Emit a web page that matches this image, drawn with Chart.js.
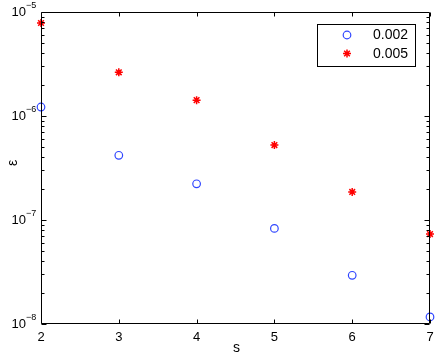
<!DOCTYPE html>
<html>
<head>
<meta charset="utf-8">
<script src="https://cdn.jsdelivr.net/npm/chart.js@4/dist/chart.umd.min.js"></script>
<style>
html,body{margin:0;padding:0;background:#fff;}
canvas{display:block;}
</style>
</head>
<body>
<canvas id="c" width="436" height="354"></canvas>
<script>
const xValues = [2, 3, 4, 5, 6, 7];
const eps002 = [1.22e-6, 4.19e-7, 2.23e-7, 8.3e-8, 2.94e-8, 1.17e-8];
const eps005 = [7.84e-6, 2.63e-6, 1.42e-6, 5.26e-7, 1.86e-7, 7.33e-8];
const seriesLabels = ['0.002', '0.005'];
const xTickValues = [2, 3, 4, 5, 6, 7];
const yTickExponents = [-5, -6, -7, -8];
const xAxisTitle = 's';
const yAxisTitle = 'ε';

const FONT = '"Liberation Sans", Arial, Helvetica, sans-serif';

function pts(ys) { return xValues.map((x, i) => ({ x: x, y: ys[i] })); }

const decor = {
  id: 'matlabDecor',
  afterDraw(chart) {
    const ctx = chart.ctx;
    const a = chart.chartArea;
    const xs = chart.scales.x, ys = chart.scales.y;
    ctx.save();
    // axes box
    ctx.strokeStyle = '#000';
    ctx.lineWidth = 1;
    const L = Math.round(a.left) + 0.5, R = Math.round(a.right) - 0.5;
    const T = Math.round(a.top) + 0.5, B = Math.round(a.bottom) - 0.5;
    ctx.beginPath();
    ctx.moveTo(L, T); ctx.lineTo(R, T); ctx.lineTo(R, B); ctx.lineTo(L, B); ctx.closePath();
    ctx.stroke();
    // x ticks (inward, top & bottom)
    ctx.beginPath();
    xTickValues.forEach(v => {
      const px = Math.round(xs.getPixelForValue(v)) + 0.5;
      ctx.moveTo(px, B); ctx.lineTo(px, B - 4);
      ctx.moveTo(px, T); ctx.lineTo(px, T + 4);
    });
    // y ticks: major & minor (log)
    for (let e = -8; e <= -6; e++) {
      for (let m = 1; m <= 9; m++) {
        const v = m * Math.pow(10, e);
        const py = Math.round(ys.getPixelForValue(v)) + 0.5;
        const len = m === 1 ? 5 : 3;
        ctx.moveTo(L, py); ctx.lineTo(L + len, py);
        ctx.moveTo(R, py); ctx.lineTo(R - len, py);
      }
    }
    ctx.stroke();
    // x tick labels
    ctx.fillStyle = '#000';
    ctx.font = '13px ' + FONT;
    ctx.textAlign = 'center';
    ctx.textBaseline = 'middle';
    xTickValues.forEach(v => {
      ctx.fillText(String(v), xs.getPixelForValue(v), a.bottom + 13);
    });
    // y tick labels 10^e
    yTickExponents.forEach(e => {
      const py = ys.getPixelForValue(Math.pow(10, e));
      ctx.font = '13px ' + FONT;
      ctx.textAlign = 'right';
      ctx.textBaseline = 'middle';
      ctx.fillText('10', 26, py + 0.5);
      ctx.font = '9px ' + FONT;
      ctx.textAlign = 'left';
      ctx.fillText(String(e).replace('-', '\u2212'), 26, py - 6.5);
    });
    // axis titles
    ctx.font = '14px ' + FONT;
    ctx.textAlign = 'center';
    ctx.textBaseline = 'middle';
    ctx.fillText(xAxisTitle, (a.left + a.right) / 2 + 1, a.bottom + 24);
    ctx.save();
    ctx.translate(13, 163);
    ctx.rotate(-Math.PI / 2);
    ctx.fillText(yAxisTitle, 0, 0);
    ctx.restore();
    // legend
    const lx = 317.5, ly = 24.5, lw = 98, lh = 42;
    ctx.fillStyle = '#fff';
    ctx.fillRect(lx, ly, lw, lh);
    ctx.strokeStyle = '#000';
    ctx.lineWidth = 1;
    ctx.strokeRect(lx, ly, lw, lh);
    chart.data.datasets.forEach((ds, i) => {
      const yy = 35 + i * 18.5;
      ctx.strokeStyle = ds.borderColor;
      ctx.fillStyle = ds.backgroundColor;
      ctx.lineWidth = ds.borderWidth;
      Chart.helpers.drawPoint(ctx, { pointStyle: ds.pointStyle, radius: ds.pointRadius, borderWidth: ds.borderWidth, rotation: 0 }, 347, yy);
      ctx.fillStyle = '#000';
      ctx.font = '14px ' + FONT;
      ctx.textAlign = 'left';
      ctx.textBaseline = 'middle';
      ctx.fillText(ds.label, 373, yy + 0.5);
    });
    ctx.restore();
  }
};

new Chart(document.getElementById('c'), {
  type: 'scatter',
  data: {
    datasets: [
      { label: seriesLabels[0], data: pts(eps002), pointStyle: 'circle', pointRadius: 3.8,
        borderColor: '#2f45ff', backgroundColor: 'rgba(0,0,0,0)', borderWidth: 1.2, clip: false, showLine: false },
      { label: seriesLabels[1], data: pts(eps005), pointStyle: 'star', pointRadius: 4,
        borderColor: '#ff0000', backgroundColor: '#ff0000', borderWidth: 1.5, clip: false, showLine: false }
    ]
  },
  options: {
    responsive: false,
    animation: false,
    devicePixelRatio: 1,
    layout: { padding: { left: 41, top: 12, right: 6, bottom: 30 } },
    plugins: { legend: { display: false }, tooltip: { enabled: false } },
    elements: { point: { hoverRadius: 4 } },
    scales: {
      x: { type: 'linear', min: 2, max: 7, display: false },
      y: { type: 'logarithmic', min: 1e-8, max: 1e-5, display: false }
    }
  },
  plugins: [decor]
});
</script>
</body>
</html>
